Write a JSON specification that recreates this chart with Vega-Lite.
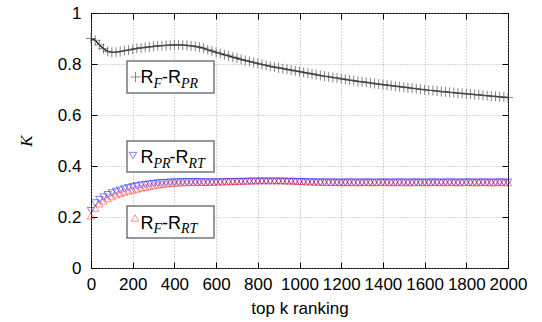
{
  "$schema": "https://vega.github.io/schema/vega-lite/v6.json",
  "width": 417,
  "height": 255,
  "autosize": "none",
  "padding": {"left": 91, "top": 13, "right": 34, "bottom": 54},
  "background": "white",
  "config": {
    "view": {"stroke": "black", "strokeWidth": 1},
    "font": "Liberation Sans",
    "axis": {
      "labelFont": "Liberation Sans",
      "labelFontSize": 17,
      "labelColor": "black",
      "titleFont": "Liberation Sans",
      "titleFontSize": 17,
      "titleFontWeight": "normal",
      "titleColor": "black",
      "domain": false,
      "tickColor": "black",
      "tickSize": -6,
      "gridColor": "#999999",
      "gridDash": [1, 2],
      "gridWidth": 0.8
    }
  },
  "datasets": {
    "kappa": [
      {"k": 0, "fpr": 0.900, "prrt": 0.225, "frt": 0.205},
      {"k": 20, "fpr": 0.893, "prrt": 0.255, "frt": 0.235},
      {"k": 40, "fpr": 0.875, "prrt": 0.268, "frt": 0.252},
      {"k": 60, "fpr": 0.860, "prrt": 0.278, "frt": 0.263},
      {"k": 80, "fpr": 0.850, "prrt": 0.287, "frt": 0.272},
      {"k": 100, "fpr": 0.846, "prrt": 0.294, "frt": 0.280},
      {"k": 120, "fpr": 0.846, "prrt": 0.300, "frt": 0.287},
      {"k": 140, "fpr": 0.849, "prrt": 0.305, "frt": 0.293},
      {"k": 160, "fpr": 0.852, "prrt": 0.310, "frt": 0.298},
      {"k": 180, "fpr": 0.855, "prrt": 0.315, "frt": 0.302},
      {"k": 200, "fpr": 0.858, "prrt": 0.319, "frt": 0.306},
      {"k": 220, "fpr": 0.861, "prrt": 0.322, "frt": 0.310},
      {"k": 240, "fpr": 0.863, "prrt": 0.325, "frt": 0.314},
      {"k": 260, "fpr": 0.865, "prrt": 0.327, "frt": 0.317},
      {"k": 280, "fpr": 0.867, "prrt": 0.329, "frt": 0.320},
      {"k": 300, "fpr": 0.869, "prrt": 0.331, "frt": 0.323},
      {"k": 320, "fpr": 0.871, "prrt": 0.333, "frt": 0.326},
      {"k": 340, "fpr": 0.872, "prrt": 0.334, "frt": 0.328},
      {"k": 360, "fpr": 0.873, "prrt": 0.335, "frt": 0.330},
      {"k": 380, "fpr": 0.874, "prrt": 0.336, "frt": 0.332},
      {"k": 400, "fpr": 0.875, "prrt": 0.337, "frt": 0.333},
      {"k": 420, "fpr": 0.875, "prrt": 0.337, "frt": 0.334},
      {"k": 440, "fpr": 0.874, "prrt": 0.338, "frt": 0.335},
      {"k": 460, "fpr": 0.873, "prrt": 0.338, "frt": 0.335},
      {"k": 480, "fpr": 0.871, "prrt": 0.338, "frt": 0.336},
      {"k": 500, "fpr": 0.869, "prrt": 0.338, "frt": 0.336},
      {"k": 520, "fpr": 0.866, "prrt": 0.338, "frt": 0.336},
      {"k": 540, "fpr": 0.862, "prrt": 0.337, "frt": 0.336},
      {"k": 560, "fpr": 0.856, "prrt": 0.337, "frt": 0.336},
      {"k": 580, "fpr": 0.851, "prrt": 0.337, "frt": 0.337},
      {"k": 600, "fpr": 0.846, "prrt": 0.337, "frt": 0.337},
      {"k": 620, "fpr": 0.841, "prrt": 0.337, "frt": 0.338},
      {"k": 640, "fpr": 0.836, "prrt": 0.338, "frt": 0.338},
      {"k": 660, "fpr": 0.832, "prrt": 0.338, "frt": 0.339},
      {"k": 680, "fpr": 0.827, "prrt": 0.338, "frt": 0.339},
      {"k": 700, "fpr": 0.823, "prrt": 0.339, "frt": 0.340},
      {"k": 720, "fpr": 0.818, "prrt": 0.339, "frt": 0.341},
      {"k": 740, "fpr": 0.814, "prrt": 0.339, "frt": 0.341},
      {"k": 760, "fpr": 0.810, "prrt": 0.340, "frt": 0.342},
      {"k": 780, "fpr": 0.806, "prrt": 0.340, "frt": 0.342},
      {"k": 800, "fpr": 0.802, "prrt": 0.340, "frt": 0.343},
      {"k": 820, "fpr": 0.798, "prrt": 0.340, "frt": 0.343},
      {"k": 840, "fpr": 0.795, "prrt": 0.340, "frt": 0.343},
      {"k": 860, "fpr": 0.791, "prrt": 0.340, "frt": 0.343},
      {"k": 880, "fpr": 0.788, "prrt": 0.340, "frt": 0.343},
      {"k": 900, "fpr": 0.785, "prrt": 0.340, "frt": 0.343},
      {"k": 920, "fpr": 0.782, "prrt": 0.340, "frt": 0.343},
      {"k": 940, "fpr": 0.779, "prrt": 0.339, "frt": 0.342},
      {"k": 960, "fpr": 0.776, "prrt": 0.339, "frt": 0.342},
      {"k": 980, "fpr": 0.773, "prrt": 0.339, "frt": 0.341},
      {"k": 1000, "fpr": 0.770, "prrt": 0.338, "frt": 0.340},
      {"k": 1020, "fpr": 0.767, "prrt": 0.338, "frt": 0.339},
      {"k": 1040, "fpr": 0.764, "prrt": 0.337, "frt": 0.338},
      {"k": 1060, "fpr": 0.761, "prrt": 0.337, "frt": 0.338},
      {"k": 1080, "fpr": 0.758, "prrt": 0.337, "frt": 0.337},
      {"k": 1100, "fpr": 0.755, "prrt": 0.336, "frt": 0.337},
      {"k": 1120, "fpr": 0.752, "prrt": 0.337, "frt": 0.336},
      {"k": 1140, "fpr": 0.750, "prrt": 0.336, "frt": 0.336},
      {"k": 1160, "fpr": 0.747, "prrt": 0.337, "frt": 0.336},
      {"k": 1180, "fpr": 0.745, "prrt": 0.336, "frt": 0.336},
      {"k": 1200, "fpr": 0.742, "prrt": 0.336, "frt": 0.335},
      {"k": 1220, "fpr": 0.740, "prrt": 0.336, "frt": 0.335},
      {"k": 1240, "fpr": 0.737, "prrt": 0.337, "frt": 0.336},
      {"k": 1260, "fpr": 0.735, "prrt": 0.336, "frt": 0.335},
      {"k": 1280, "fpr": 0.732, "prrt": 0.336, "frt": 0.335},
      {"k": 1300, "fpr": 0.730, "prrt": 0.336, "frt": 0.335},
      {"k": 1320, "fpr": 0.728, "prrt": 0.337, "frt": 0.336},
      {"k": 1340, "fpr": 0.726, "prrt": 0.336, "frt": 0.335},
      {"k": 1360, "fpr": 0.723, "prrt": 0.336, "frt": 0.335},
      {"k": 1380, "fpr": 0.721, "prrt": 0.336, "frt": 0.335},
      {"k": 1400, "fpr": 0.719, "prrt": 0.337, "frt": 0.336},
      {"k": 1420, "fpr": 0.717, "prrt": 0.336, "frt": 0.335},
      {"k": 1440, "fpr": 0.715, "prrt": 0.336, "frt": 0.335},
      {"k": 1460, "fpr": 0.713, "prrt": 0.336, "frt": 0.335},
      {"k": 1480, "fpr": 0.711, "prrt": 0.337, "frt": 0.336},
      {"k": 1500, "fpr": 0.709, "prrt": 0.336, "frt": 0.335},
      {"k": 1520, "fpr": 0.707, "prrt": 0.336, "frt": 0.335},
      {"k": 1540, "fpr": 0.705, "prrt": 0.336, "frt": 0.335},
      {"k": 1560, "fpr": 0.703, "prrt": 0.337, "frt": 0.336},
      {"k": 1580, "fpr": 0.701, "prrt": 0.336, "frt": 0.335},
      {"k": 1600, "fpr": 0.699, "prrt": 0.336, "frt": 0.335},
      {"k": 1620, "fpr": 0.697, "prrt": 0.336, "frt": 0.335},
      {"k": 1640, "fpr": 0.696, "prrt": 0.337, "frt": 0.336},
      {"k": 1660, "fpr": 0.694, "prrt": 0.336, "frt": 0.335},
      {"k": 1680, "fpr": 0.692, "prrt": 0.336, "frt": 0.335},
      {"k": 1700, "fpr": 0.691, "prrt": 0.336, "frt": 0.335},
      {"k": 1720, "fpr": 0.689, "prrt": 0.337, "frt": 0.336},
      {"k": 1740, "fpr": 0.688, "prrt": 0.336, "frt": 0.335},
      {"k": 1760, "fpr": 0.686, "prrt": 0.336, "frt": 0.335},
      {"k": 1780, "fpr": 0.685, "prrt": 0.336, "frt": 0.335},
      {"k": 1800, "fpr": 0.683, "prrt": 0.337, "frt": 0.336},
      {"k": 1820, "fpr": 0.682, "prrt": 0.336, "frt": 0.335},
      {"k": 1840, "fpr": 0.680, "prrt": 0.336, "frt": 0.335},
      {"k": 1860, "fpr": 0.679, "prrt": 0.336, "frt": 0.335},
      {"k": 1880, "fpr": 0.677, "prrt": 0.337, "frt": 0.336},
      {"k": 1900, "fpr": 0.676, "prrt": 0.336, "frt": 0.335},
      {"k": 1920, "fpr": 0.674, "prrt": 0.336, "frt": 0.335},
      {"k": 1940, "fpr": 0.673, "prrt": 0.336, "frt": 0.335},
      {"k": 1960, "fpr": 0.671, "prrt": 0.337, "frt": 0.336},
      {"k": 1980, "fpr": 0.670, "prrt": 0.336, "frt": 0.335},
      {"k": 2000, "fpr": 0.668, "prrt": 0.336, "frt": 0.335}
    ],
    "boxes": [
      {"x1": 172.7, "x2": 589.9, "y1": 0.8118, "y2": 0.6863},
      {"x1": 172.7, "x2": 589.9, "y1": 0.498, "y2": 0.3765},
      {"x1": 172.7, "x2": 589.9, "y1": 0.2431, "y2": 0.1176}
    ],
    "maintext": [
      {"x": 237.4, "y": 0.7243, "t": "R"},
      {"x": 340.6, "y": 0.7243, "t": "-"},
      {"x": 369.3, "y": 0.7243, "t": "R"},
      {"x": 237.4, "y": 0.4118, "t": "R"},
      {"x": 376.5, "y": 0.4118, "t": "-"},
      {"x": 405.3, "y": 0.4118, "t": "R"},
      {"x": 237.4, "y": 0.1549, "t": "R"},
      {"x": 340.6, "y": 0.1549, "t": "-"},
      {"x": 369.3, "y": 0.1549, "t": "R"}
    ],
    "subtext": [
      {"x": 299.8, "y": 0.7059, "t": "F"},
      {"x": 431.7, "y": 0.7059, "t": "PR"},
      {"x": 299.8, "y": 0.3941, "t": "PR"},
      {"x": 467.6, "y": 0.3941, "t": "RT"},
      {"x": 299.8, "y": 0.1373, "t": "F"},
      {"x": 431.7, "y": 0.1373, "t": "RT"}
    ],
    "keyfpr": [{"x": 213.4, "y": 0.749}],
    "keyprrt": [{"x": 201.4, "y": 0.441}],
    "keyfrt": [{"x": 211.0, "y": 0.196}]
  },
  "resolve": {"axis": {"x": "independent", "y": "independent"}},
  "layer": [
    {
      "data": {"name": "kappa"},
      "mark": {"type": "line", "color": "black", "strokeWidth": 1.2},
      "encoding": {
        "x": {
          "field": "k", "type": "quantitative",
          "scale": {"domain": [0, 2000], "nice": false},
          "axis": {"orient": "bottom", "values": [0, 200, 400, 600, 800, 1000, 1200, 1400, 1600, 1800, 2000], "format": "d", "grid": true, "labelPadding": 14, "title": "top k ranking", "titlePadding": 8, "labelFlush": false}
        },
        "y": {
          "field": "fpr", "type": "quantitative",
          "scale": {"domain": [0, 1], "nice": false},
          "axis": {"orient": "left", "values": [0, 0.2, 0.4, 0.6, 0.8, 1], "format": "~g", "grid": true, "labelPadding": 16, "title": "K", "titleFont": "Liberation Serif", "titleFontStyle": "italic", "titleFontSize": 17, "titlePadding": 22}
        }
      }
    },
    {
      "data": {"name": "kappa"},
      "mark": {"type": "point", "shape": "M-1,0H1M0,-1V1", "filled": false, "stroke": "#555555", "strokeWidth": 1, "size": 100},
      "encoding": {
        "x": {"field": "k", "type": "quantitative", "axis": {"orient": "top", "values": [0, 200, 400, 600, 800, 1000, 1200, 1400, 1600, 1800, 2000], "labels": false, "grid": false, "title": null}},
        "y": {"field": "fpr", "type": "quantitative", "axis": {"orient": "right", "values": [0, 0.2, 0.4, 0.6, 0.8, 1], "labels": false, "grid": false, "title": null}}
      }
    },
    {
      "data": {"name": "kappa"},
      "mark": {"type": "point", "shape": "triangle-down", "filled": false, "stroke": "#0000ff", "strokeWidth": 1, "strokeOpacity": 0.7, "size": 55},
      "encoding": {
        "x": {"field": "k", "type": "quantitative", "axis": null},
        "y": {"field": "prrt", "type": "quantitative", "axis": null}
      }
    },
    {
      "data": {"name": "kappa"},
      "mark": {"type": "point", "shape": "triangle-up", "filled": false, "stroke": "#ff0000", "strokeWidth": 1, "strokeOpacity": 0.6, "size": 55},
      "encoding": {
        "x": {"field": "k", "type": "quantitative", "axis": null},
        "y": {"field": "frt", "type": "quantitative", "axis": null}
      }
    },
    {
      "data": {"name": "boxes"},
      "mark": {"type": "rect", "fill": "white", "stroke": "#777777", "strokeWidth": 1.5},
      "encoding": {
        "x": {"field": "x1", "type": "quantitative", "axis": null},
        "x2": {"field": "x2"},
        "y": {"field": "y1", "type": "quantitative", "axis": null},
        "y2": {"field": "y2"}
      }
    },
    {
      "data": {"name": "maintext"},
      "mark": {"type": "text", "font": "Liberation Sans", "fontSize": 18, "align": "left", "baseline": "alphabetic", "color": "black"},
      "encoding": {
        "x": {"field": "x", "type": "quantitative", "axis": null},
        "y": {"field": "y", "type": "quantitative", "axis": null},
        "text": {"field": "t"}
      }
    },
    {
      "data": {"name": "subtext"},
      "mark": {"type": "text", "font": "Liberation Serif", "fontStyle": "italic", "fontSize": 14, "align": "left", "baseline": "alphabetic", "color": "black"},
      "encoding": {
        "x": {"field": "x", "type": "quantitative", "axis": null},
        "y": {"field": "y", "type": "quantitative", "axis": null},
        "text": {"field": "t"}
      }
    },
    {
      "data": {"name": "keyfpr"},
      "mark": {"type": "point", "shape": "M-1,0H1M0,-1V1", "filled": false, "stroke": "#555555", "strokeWidth": 1, "size": 100},
      "encoding": {
        "x": {"field": "x", "type": "quantitative", "axis": null},
        "y": {"field": "y", "type": "quantitative", "axis": null}
      }
    },
    {
      "data": {"name": "keyprrt"},
      "mark": {"type": "point", "shape": "triangle-down", "filled": false, "stroke": "#0000ff", "strokeWidth": 1, "strokeOpacity": 0.7, "size": 55},
      "encoding": {
        "x": {"field": "x", "type": "quantitative", "axis": null},
        "y": {"field": "y", "type": "quantitative", "axis": null}
      }
    },
    {
      "data": {"name": "keyfrt"},
      "mark": {"type": "point", "shape": "triangle-up", "filled": false, "stroke": "#ff0000", "strokeWidth": 1, "strokeOpacity": 0.6, "size": 55},
      "encoding": {
        "x": {"field": "x", "type": "quantitative", "axis": null},
        "y": {"field": "y", "type": "quantitative", "axis": null}
      }
    }
  ]
}
